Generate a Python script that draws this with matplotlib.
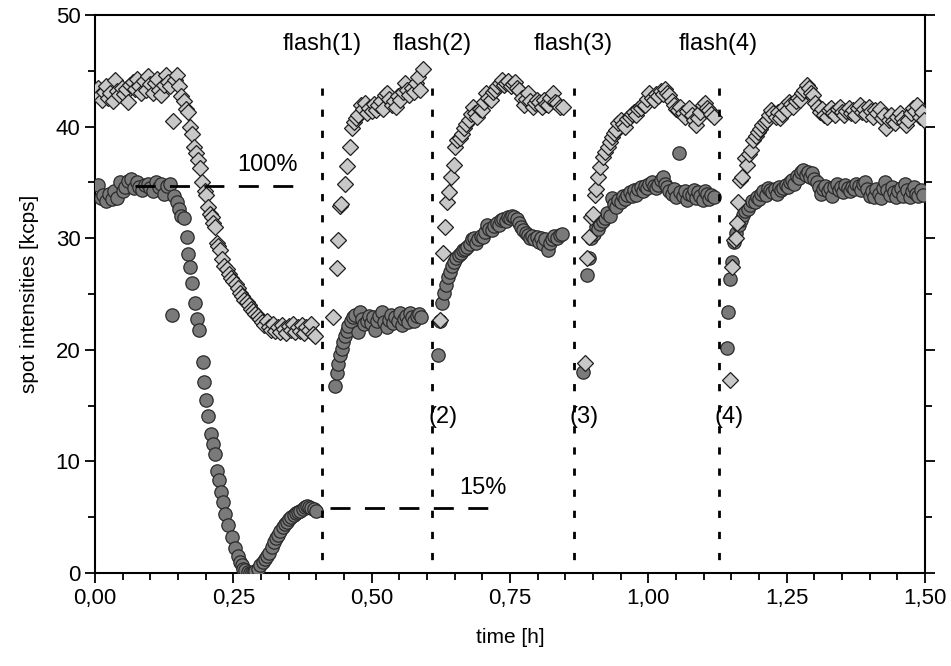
import numpy as np
import matplotlib
matplotlib.use('Agg')
import matplotlib.pyplot as plt
from matplotlib.ticker import MultipleLocator, FuncFormatter

plt.rcParams['font.family'] = ['Liberation Sans', 'DejaVu Sans']

# spot 1 (grey circles), time [h] / intensity [kcps]
t_circ = [0.005, 0.010, 0.015, 0.020, 0.025, 0.030, 0.035, 0.040, 0.045, 0.050, 0.055, 0.060, 0.065, 0.070,
          0.075, 0.080, 0.085, 0.090, 0.095, 0.100, 0.105, 0.110, 0.115, 0.120, 0.125, 0.130, 0.135,
          0.139, 0.142, 0.148, 0.152, 0.156, 0.160, 0.166, 0.168, 0.172, 0.176, 0.180, 0.184, 0.188,
          0.195, 0.197, 0.200, 0.204, 0.209, 0.213, 0.217, 0.220, 0.224, 0.228, 0.232, 0.235, 0.240,
          0.247, 0.253, 0.258, 0.262, 0.265, 0.268, 0.271, 0.276, 0.280, 0.283, 0.287, 0.290, 0.295,
          0.299, 0.303, 0.307, 0.311, 0.315, 0.319, 0.323, 0.327, 0.331, 0.335, 0.339, 0.343, 0.347,
          0.351, 0.355, 0.359, 0.363, 0.367, 0.371, 0.375, 0.379, 0.383, 0.387, 0.391, 0.395, 0.399,
          # after flash 1
          0.434, 0.437, 0.440, 0.443, 0.446, 0.449, 0.452, 0.455, 0.458, 0.462, 0.466, 0.470, 0.475,
          0.479, 0.483, 0.487, 0.491, 0.495, 0.499, 0.503, 0.506, 0.510, 0.514, 0.519, 0.523, 0.527,
          0.531, 0.535, 0.539, 0.543, 0.547, 0.551, 0.554, 0.558, 0.562, 0.566, 0.569, 0.573, 0.577,
          0.581, 0.585, 0.590,
          # after flash 2
          0.620, 0.624, 0.627, 0.631, 0.634, 0.638, 0.641, 0.645, 0.649, 0.653, 0.657, 0.661, 0.665,
          0.669, 0.673, 0.677, 0.681, 0.685, 0.689, 0.693, 0.697, 0.701, 0.705, 0.708, 0.712, 0.717,
          0.721, 0.726, 0.730, 0.734, 0.738, 0.742, 0.746, 0.750, 0.754, 0.758, 0.762, 0.766, 0.770,
          0.774, 0.778, 0.782, 0.786, 0.790, 0.794, 0.798, 0.802, 0.806, 0.810, 0.814, 0.818, 0.822,
          0.826, 0.830, 0.835, 0.840, 0.844,
          # after flash 3
          0.882, 0.889, 0.893, 0.897, 0.901, 0.905, 0.909, 0.913, 0.918, 0.922, 0.926, 0.930, 0.934,
          0.938, 0.942, 0.946, 0.950, 0.954, 0.958, 0.962, 0.966, 0.970, 0.974, 0.978, 0.982, 0.986,
          0.990, 0.994, 0.998, 1.002, 1.006, 1.010, 1.014, 1.018, 1.022, 1.026, 1.030, 1.034, 1.038,
          1.042, 1.046, 1.050, 1.055, 1.058, 1.062, 1.066, 1.070, 1.074, 1.078, 1.082, 1.086, 1.090,
          1.094, 1.098, 1.102, 1.106, 1.110, 1.114, 1.118,
          # after flash 4
          1.142, 1.144, 1.148, 1.151, 1.155, 1.159, 1.163, 1.167, 1.171, 1.175, 1.180, 1.184, 1.188,
          1.192, 1.196, 1.200, 1.204, 1.208, 1.212, 1.216, 1.220, 1.224, 1.228, 1.232, 1.236, 1.240,
          1.244, 1.248, 1.252, 1.256, 1.260, 1.264, 1.268, 1.272, 1.276, 1.280, 1.284, 1.288, 1.292,
          1.296, 1.300, 1.304, 1.308, 1.312, 1.316, 1.320, 1.324, 1.328, 1.332, 1.336, 1.340, 1.344,
          1.348, 1.352, 1.356, 1.360, 1.364, 1.368, 1.372, 1.376, 1.380, 1.384, 1.388, 1.392, 1.396,
          1.400, 1.404, 1.408, 1.412, 1.416, 1.420, 1.424, 1.428, 1.432, 1.436, 1.440, 1.444, 1.448,
          1.452, 1.456, 1.460, 1.464, 1.468, 1.472, 1.476, 1.480, 1.484, 1.488, 1.492, 1.496]
i_circ = [34.8, 33.6, 33.9, 33.3, 34.0, 33.5, 34.2, 33.6, 35.0, 34.2, 34.6, 35.1, 35.3, 34.5,
          35.0, 34.6, 34.3, 34.8, 34.9, 34.5, 34.2, 35.0, 34.6, 34.9, 34.0, 34.7, 34.9,
          23.1, 33.8, 33.2, 32.6, 32.0, 31.8, 30.1, 28.6, 27.4, 26.0, 24.2, 22.8, 21.8,
          18.9, 17.1, 15.5, 14.1, 12.5, 11.6, 10.7, 9.1, 8.3, 7.3, 6.4, 5.3, 4.3,
          3.2, 2.2, 1.5, 1.0, 0.7, 0.4, 0.3, 0.1, 0.0, 0.0, 0.1, 0.2, 0.4,
          0.7, 1.0, 1.3, 1.5, 1.8, 2.3, 2.8, 3.1, 3.4, 3.8, 4.1, 4.4, 4.6,
          4.8, 5.0, 5.2, 5.4, 5.5, 5.6, 5.7, 5.9, 6.0, 5.9, 5.8, 5.7, 5.6,
          16.8, 17.9, 18.7, 19.5, 20.1, 20.7, 21.2, 21.7, 22.1, 22.6, 22.9, 23.1, 21.6,
          23.4, 22.8, 22.3, 22.6, 23.0, 22.4, 22.9, 21.8, 22.6, 23.0, 23.4, 22.5, 22.0,
          22.7, 23.1, 22.4, 22.9, 22.6, 23.3, 22.2, 22.8, 23.0, 22.5, 23.3, 22.9, 22.6,
          23.0, 23.2, 22.9,
          19.5, 22.6, 24.2, 25.1, 25.8, 26.5, 27.0, 27.5, 27.9, 28.2, 28.5, 28.7, 28.9,
          29.0, 29.2, 29.5, 29.9, 30.0, 29.6, 29.9, 30.2, 30.1, 30.6, 31.2, 30.8, 30.7,
          31.1, 31.4, 31.2, 31.6, 31.7, 31.5, 31.9, 31.8, 32.0, 31.9, 31.7, 31.4, 31.0,
          30.7, 30.5, 30.3, 30.0, 30.2, 29.9, 30.1, 29.7, 30.0, 29.5, 29.9, 28.9, 29.6,
          29.9, 30.2, 30.0, 30.3, 30.4,
          18.0, 26.7, 28.2, 30.0, 30.4, 31.0, 30.8, 31.3, 31.5, 31.8, 32.3, 32.0, 33.6,
          33.1, 32.8, 33.4, 33.2, 33.8, 33.5, 33.9, 34.1, 33.8, 34.3, 33.9, 34.4, 34.6,
          34.2, 34.7, 34.5, 34.9, 35.0, 34.7, 34.5, 34.8, 35.2, 35.5, 34.9, 34.6, 34.2,
          34.0, 34.4, 33.7, 37.6, 34.1, 33.8, 34.2, 33.4, 34.0, 33.9, 34.3, 33.6, 34.1,
          33.8, 33.4, 34.2, 34.0, 33.5, 33.9, 33.7,
          20.2, 23.4, 26.3, 27.9, 29.7, 30.5, 31.2, 31.6, 32.1, 32.4, 32.6, 33.0, 33.3,
          33.2, 33.7, 33.5, 34.0, 34.2, 33.9, 34.5, 34.3, 34.1, 34.4, 34.0, 34.6, 34.3,
          34.5, 34.8, 34.6, 35.0, 35.2, 34.9, 35.6, 35.4, 35.9, 36.1, 35.7, 35.9, 35.5,
          35.8, 35.3, 35.0, 34.6, 34.0, 34.4, 34.7, 34.2, 34.5, 33.8, 34.6, 34.9, 34.3,
          34.6, 34.1, 34.8, 34.5, 34.2, 34.6, 34.4, 34.9, 34.7, 34.3, 34.9, 35.0, 34.4,
          33.8, 34.2, 33.7, 34.4, 34.0, 33.6, 34.5, 35.0, 34.3, 33.9, 34.6, 34.1, 33.7,
          34.2, 34.5, 33.8, 34.9, 34.3, 33.7, 34.2, 34.6, 34.0, 33.8, 34.3, 33.9]

# spot 2 (light diamonds)
t_diam = [0.005, 0.008, 0.012, 0.016, 0.020, 0.024, 0.028, 0.032, 0.036, 0.040, 0.044, 0.048, 0.052,
          0.056, 0.060, 0.064, 0.068, 0.072, 0.076, 0.080, 0.084, 0.088, 0.092, 0.096, 0.100, 0.104,
          0.108, 0.112, 0.116, 0.120, 0.124, 0.128, 0.132, 0.136, 0.141, 0.144, 0.148, 0.152, 0.156,
          0.160, 0.164, 0.168, 0.172, 0.176, 0.178, 0.182, 0.186, 0.190, 0.194, 0.198, 0.201, 0.205,
          0.208, 0.211, 0.214, 0.217, 0.220, 0.223, 0.226, 0.230, 0.234, 0.238, 0.242, 0.246, 0.250,
          0.254, 0.258, 0.262, 0.266, 0.270, 0.274, 0.278, 0.282, 0.286, 0.290, 0.294, 0.298, 0.302,
          0.306, 0.310, 0.314, 0.318, 0.322, 0.326, 0.330, 0.334, 0.338, 0.342, 0.346, 0.350, 0.354,
          0.358, 0.362, 0.366, 0.370, 0.374, 0.378, 0.382, 0.386, 0.390, 0.394, 0.398,
          # after flash 1
          0.430, 0.437, 0.439, 0.442, 0.444, 0.452, 0.456, 0.461, 0.464, 0.468, 0.472, 0.476, 0.480,
          0.484, 0.488, 0.492, 0.496, 0.500, 0.504, 0.508, 0.512, 0.516, 0.520, 0.524, 0.528, 0.532,
          0.536, 0.540, 0.544, 0.548, 0.552, 0.556, 0.560, 0.564, 0.568, 0.572, 0.576, 0.580, 0.584,
          0.588, 0.593,
          # after flash 2
          0.624, 0.629, 0.633, 0.636, 0.640, 0.644, 0.648, 0.651, 0.655, 0.659, 0.663, 0.667, 0.671,
          0.675, 0.679, 0.683, 0.687, 0.691, 0.695, 0.699, 0.703, 0.707, 0.711, 0.715, 0.719, 0.723,
          0.727, 0.731, 0.735, 0.739, 0.743, 0.747, 0.751, 0.755, 0.759, 0.763, 0.767, 0.771, 0.775,
          0.779, 0.783, 0.787, 0.791, 0.795, 0.799, 0.803, 0.807, 0.811, 0.815, 0.819, 0.823, 0.827,
          0.831, 0.835, 0.840, 0.846,
          # after flash 3
          0.886, 0.889, 0.893, 0.897, 0.900, 0.903, 0.906, 0.909, 0.913, 0.918, 0.922, 0.927, 0.931,
          0.934, 0.938, 0.942, 0.946, 0.950, 0.954, 0.958, 0.962, 0.966, 0.970, 0.974, 0.978, 0.982,
          0.986, 0.990, 0.994, 0.998, 1.002, 1.006, 1.010, 1.014, 1.018, 1.022, 1.026, 1.030, 1.034,
          1.038, 1.042, 1.046, 1.050, 1.054, 1.058, 1.062, 1.066, 1.070, 1.074, 1.078, 1.082, 1.086,
          1.090, 1.094, 1.098, 1.102, 1.106, 1.110, 1.114, 1.118,
          # after flash 4
          1.148, 1.151, 1.155, 1.158, 1.160, 1.162, 1.166, 1.170, 1.174, 1.178, 1.182, 1.186, 1.190,
          1.194, 1.198, 1.202, 1.206, 1.210, 1.214, 1.218, 1.222, 1.226, 1.230, 1.234, 1.238, 1.242,
          1.246, 1.250, 1.254, 1.258, 1.262, 1.266, 1.270, 1.274, 1.278, 1.282, 1.286, 1.290, 1.294,
          1.298, 1.302, 1.306, 1.310, 1.314, 1.318, 1.322, 1.326, 1.330, 1.334, 1.338, 1.342, 1.346,
          1.350, 1.354, 1.358, 1.362, 1.366, 1.370, 1.374, 1.378, 1.382, 1.386, 1.390, 1.394, 1.398,
          1.402, 1.406, 1.410, 1.414, 1.418, 1.422, 1.426, 1.430, 1.434, 1.438, 1.442, 1.446, 1.450,
          1.454, 1.458, 1.462, 1.466, 1.470, 1.474, 1.478, 1.482, 1.486, 1.490, 1.494, 1.498]
i_diam = [43.5, 42.7, 42.4, 43.1, 43.6, 42.6, 43.0, 42.3, 44.2, 43.2, 42.8, 43.5, 42.9,
          43.4, 42.2, 43.7, 44.0, 43.4, 44.3, 43.6, 43.0, 44.1, 43.3, 44.5, 43.8, 43.0,
          43.9, 44.3, 43.3, 42.8, 43.7, 44.6, 44.0, 43.6, 40.5, 44.2, 44.6, 43.6, 42.7,
          42.3, 41.6, 41.3, 40.0, 39.3, 38.2, 37.6, 37.0, 36.3, 35.0, 34.2, 33.9, 32.8,
          32.2, 31.9, 31.4, 31.0, 29.6, 29.3, 28.9, 28.1, 27.5, 27.2, 26.8, 26.4, 26.2,
          25.9, 25.5, 25.1, 24.8, 24.5, 24.3, 24.0, 23.7, 23.5, 23.2, 23.0, 22.8, 22.5,
          22.2, 22.6, 22.0, 21.8, 22.3, 21.7, 22.0, 21.6, 22.2, 21.9, 21.5, 22.1, 21.8,
          22.3, 21.6, 22.0, 21.7, 22.2, 21.5, 22.0, 21.8, 22.3, 21.4, 21.2,
          22.9, 27.3, 29.8, 32.9, 33.1, 34.9, 36.5, 38.2, 39.9, 40.4, 40.8, 41.0, 41.9,
          41.6, 42.1, 41.2, 41.7, 41.4, 42.0, 41.5, 41.9, 42.3, 41.6, 42.8, 43.0, 42.5,
          41.9, 42.3, 41.8, 42.7, 42.4, 43.1, 43.9, 43.3, 42.8, 43.5, 43.1, 43.9, 44.4,
          43.3, 45.2,
          22.7, 28.7, 31.0, 33.2, 34.1, 35.5, 36.6, 38.2, 38.8, 39.0, 39.3, 39.9, 40.2,
          40.6, 41.1, 41.8, 41.2, 40.9, 41.6, 41.5, 42.2, 43.0, 42.6, 42.4, 43.1, 43.3,
          43.6, 43.9, 44.2, 43.7, 43.9, 44.1, 43.6, 43.8, 44.0, 43.5, 43.3, 42.6, 41.9,
          42.5, 43.0, 42.3, 41.8, 42.1, 42.4, 42.2, 41.8, 42.4, 42.0, 41.9, 42.6, 43.0,
          42.2, 42.1, 41.8, 41.8,
          18.8, 28.2, 30.1, 31.9, 32.2, 33.9, 34.4, 35.5, 36.4, 37.3, 37.7, 38.2, 38.6,
          39.1, 39.4, 39.7, 40.3, 40.6, 40.2, 40.0, 40.7, 40.9, 41.1, 41.3, 41.0, 41.6,
          41.7, 42.0, 41.9, 42.5, 43.0, 42.6, 42.4, 42.9, 42.7, 43.2, 42.9, 43.4, 43.0,
          42.8, 42.3, 41.9, 41.6, 41.5, 41.8, 41.2, 40.9, 41.4, 41.7, 41.0, 40.6, 40.1,
          40.8, 41.3, 41.9, 42.1, 41.7, 41.5, 41.1, 40.9,
          17.3, 27.4, 29.8, 30.0, 31.4, 33.2, 35.2, 35.5, 37.2, 36.6, 37.5, 37.9, 38.8,
          39.2, 39.5, 39.8, 40.1, 40.4, 40.6, 41.0, 41.5, 41.2, 40.9, 41.3, 40.8, 41.1,
          41.8, 41.5, 42.2, 42.0, 41.8, 42.3, 42.6, 42.4, 43.0, 43.3, 43.7, 43.5, 43.0,
          42.8, 42.1, 41.8, 41.3, 41.6, 41.0, 40.9, 41.5, 41.7, 41.2, 41.0, 41.6, 41.8,
          41.3, 41.0, 41.4, 41.7, 41.2, 41.5, 41.0, 41.7, 41.9, 41.3, 41.6, 41.1, 41.8,
          41.4, 40.9, 41.5, 41.2, 41.6, 40.8, 41.0, 39.9, 40.6, 41.0, 40.5, 40.3, 40.9,
          41.2, 40.8, 40.4, 40.1, 40.6, 41.2, 41.7, 41.4, 41.9, 40.9, 41.3, 40.6]

flash_times = [0.410, 0.609, 0.865, 1.127]
flash_labels = ['flash(1)', 'flash(2)', 'flash(3)', 'flash(4)']
flash_numbers = ['(2)', '(3)', '(4)']
level_100 = 34.7
level_15 = 5.8


def comma(v, pos):
    return '{:.2f}'.format(v).replace('.', ',')


fig = plt.figure(figsize=(9.51, 6.66), dpi=100)
ax = fig.add_axes([0.0999, 0.1396, 0.8728, 0.8379])

ax.plot(t_circ, i_circ, 'o', ms=9.6, mfc='#7a7a7a', mec='#2a2a2a', mew=0.9, zorder=3)
ax.plot(t_diam, i_diam, 'D', ms=8.4, mfc='#c8c8c8', mec='#1e1e1e', mew=0.9, zorder=4)

# flash markers
for t, lab in zip(flash_times, flash_labels):
    ax.plot([t, t], [43.5, 0.2], color='black', lw=2, ls=(0, (2.6, 5.0)),
            dash_capstyle='butt', zorder=5)
    ax.text(t, 47.4, lab, ha='center', va='center', fontsize=17)
for t, lab in zip(flash_times[1:], flash_numbers):
    ax.text(t - 0.007, 14.0, lab, ha='left', va='center', fontsize=17)

# reference levels
ax.plot([0.072, 0.365], [level_100, level_100], color='black', lw=2,
        ls=(0, (7.2, 5.2)), dash_capstyle='butt', zorder=6)
ax.text(0.367, 36.6, '100%', ha='right', va='center', fontsize=17)
ax.plot([0.424, 0.717], [level_15, level_15], color='black', lw=2,
        ls=(0, (7.2, 5.2)), dash_capstyle='butt', zorder=6)
ax.text(0.658, 7.6, '15%', ha='left', va='center', fontsize=17)

ax.set_xlim(0, 1.5)
ax.set_ylim(0, 50)
ax.xaxis.set_major_locator(MultipleLocator(0.25))
ax.xaxis.set_minor_locator(MultipleLocator(0.05))
ax.yaxis.set_major_locator(MultipleLocator(10))
ax.yaxis.set_minor_locator(MultipleLocator(5))
ax.xaxis.set_major_formatter(FuncFormatter(comma))
ax.tick_params(which='both', direction='out', width=1.3, labelsize=16, right=True)
ax.tick_params(which='major', length=7)
ax.tick_params(which='minor', length=5)
for s in ax.spines.values():
    s.set_linewidth(1.5)

ax.set_xlabel('time [h]', fontsize=15, labelpad=14)
ax.set_ylabel('spot intensities [kcps]', fontsize=15, labelpad=12)

fig.savefig('out.png', dpi=100)
